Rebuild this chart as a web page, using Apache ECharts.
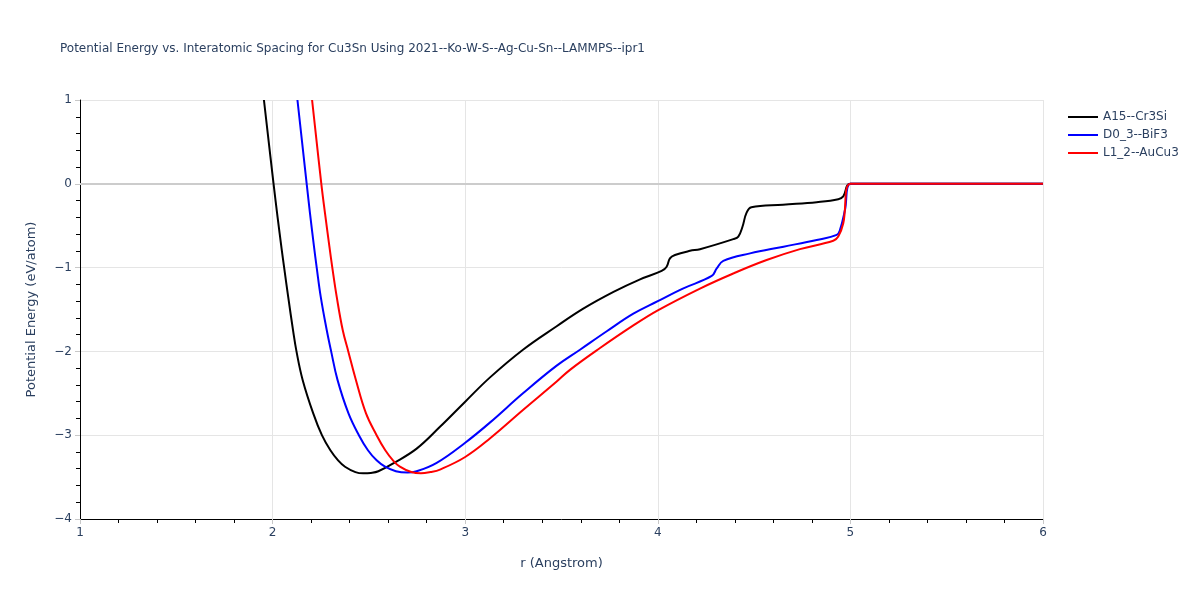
<!DOCTYPE html>
<html>
<head>
<meta charset="utf-8">
<script src="https://cdn.jsdelivr.net/npm/echarts@6/dist/echarts.min.js"></script>
<style>
  html, body { margin: 0; padding: 0; background: #fff; }
  #chartArea { width: 1200px; height: 600px; }
</style>
</head>
<body>
<div id="chartArea"></div>
<script>
// 数据 (r 单位 Angstrom, 能量 eV/atom)
const rA15 = [1.955, 2.005, 2.026, 2.047, 2.06, 2.081, 2.106, 2.124, 2.156, 2.211, 2.256, 2.30, 2.34, 2.376, 2.43, 2.47, 2.51, 2.549, 2.627, 2.748, 2.869, 3.0, 3.129, 3.30, 3.475, 3.613, 3.77, 3.908, 4.02, 4.046, 4.063, 4.089, 4.167, 4.219, 4.392, 4.418, 4.44, 4.46, 4.486, 4.65, 4.825, 4.937, 4.963, 5.0, 6.0];
const eA15 = [1, 0, -0.4, -0.78, -1.0, -1.35, -1.745, -2.0, -2.34, -2.74, -3.0, -3.18, -3.30, -3.376, -3.44, -3.455, -3.45, -3.43, -3.335, -3.16, -2.90, -2.60, -2.31, -1.98, -1.70, -1.49, -1.29, -1.14, -1.04, -0.99, -0.89, -0.85, -0.80, -0.78, -0.66, -0.63, -0.51, -0.35, -0.28, -0.25, -0.22, -0.185, -0.15, 0, 0];

const rD03 = [2.129, 2.177, 2.194, 2.215, 2.229, 2.25, 2.281, 2.304, 2.337, 2.394, 2.448, 2.495, 2.54, 2.584, 2.64, 2.70, 2.748, 2.852, 3.0, 3.128, 3.30, 3.475, 3.596, 3.735, 3.873, 4.0, 4.13, 4.28, 4.306, 4.34, 4.479, 4.653, 4.825, 4.929, 4.946, 4.972, 5.0, 6.0];
const eD03 = [1, 0, -0.35, -0.75, -1.0, -1.35, -1.745, -2.0, -2.34, -2.74, -3.0, -3.18, -3.30, -3.376, -3.43, -3.445, -3.43, -3.33, -3.09, -2.85, -2.50, -2.17, -1.98, -1.76, -1.55, -1.40, -1.25, -1.10, -1.01, -0.92, -0.83, -0.75, -0.67, -0.61, -0.55, -0.31, 0, 0];

const rL12 = [2.205, 2.253, 2.272, 2.295, 2.31, 2.333, 2.364, 2.393, 2.43, 2.485, 2.54, 2.585, 2.625, 2.661, 2.72, 2.77, 2.82, 2.869, 3.0, 3.128, 3.30, 3.475, 3.544, 3.70, 3.873, 4.0, 4.219, 4.392, 4.565, 4.738, 4.911, 4.937, 4.963, 5.0, 6.0];
const eL12 = [1, 0, -0.35, -0.75, -1.0, -1.35, -1.745, -2.0, -2.32, -2.74, -3.0, -3.18, -3.30, -3.376, -3.44, -3.455, -3.44, -3.41, -3.26, -3.04, -2.70, -2.36, -2.22, -1.96, -1.69, -1.51, -1.25, -1.07, -0.91, -0.78, -0.68, -0.63, -0.47, 0, 0];

const seriesNames = ['A15--Cr3Si', 'D0_3--BiF3', 'L1_2--AuCu3'];
const seriesColors = ['#000000', '#0000ff', '#ff0000'];

const textColor = '#2a3f5f';
const font = '"DejaVu Sans", Verdana, sans-serif';

const chartDom = document.getElementById('chartArea');
const myChart = echarts.init(chartDom);

function pairs(xs, ys) {
    return xs.map((x, i) => [x, ys[i]]);
}

const allData = [pairs(rA15, eA15), pairs(rD03, eD03), pairs(rL12, eL12)];

const series = allData.map((data, i) => ({
    name: seriesNames[i],
    type: 'line',
    data: data,
    symbol: 'none',
    smooth: 0.4,
    clip: true,
    lineStyle: { color: seriesColors[i], width: 2 },
    itemStyle: { color: seriesColors[i] },
    z: 3 + i
}));

// 零线
series[0].markLine = {
    silent: true,
    symbol: 'none',
    label: { show: false },
    lineStyle: { color: '#cccccc', width: 2, type: 'solid' },
    data: [{ yAxis: 0 }],
    z: 1
};

// 负号用 U+2212
const minusFmt = v => String(v).replace('-', '\u2212');

const axisCommon = {
    axisLine: { show: true, onZero: false, lineStyle: { color: '#000', width: 1 } },
    axisTick: { show: true, length: 5, lineStyle: { color: '#c8c8c8', width: 1 } },
    minorTick: { show: true, splitNumber: 5, length: 4, lineStyle: { color: '#000', width: 1 } },
    splitLine: { show: true, lineStyle: { color: '#e5e5e5', width: 1 } },
    axisLabel: { color: textColor, fontSize: 12, fontFamily: font, formatter: minusFmt },
    nameTextStyle: { color: textColor, fontSize: 13, fontFamily: font }
};

const option = {
    backgroundColor: '#fff',
    animation: false,
    title: {
        text: 'Potential Energy vs. Interatomic Spacing for Cu3Sn Using 2021--Ko-W-S--Ag-Cu-Sn--LAMMPS--ipr1',
        left: 55,
        top: 38,
        textStyle: { color: textColor, fontSize: 12, fontWeight: 'normal', fontFamily: font }
    },
    legend: {
        orient: 'vertical',
        left: 1062,
        top: 106,
        itemWidth: 30,
        itemHeight: 2,
        itemGap: 6,
        data: seriesNames,
        textStyle: { color: textColor, fontSize: 12, fontFamily: font }
    },
    grid: { left: 80, right: 157, top: 100, bottom: 81, containLabel: false },
    xAxis: Object.assign({}, axisCommon, {
        type: 'value',
        min: 1,
        max: 6,
        interval: 1,
        name: 'r (Angstrom)',
        nameLocation: 'middle',
        nameGap: 38
    }),
    yAxis: Object.assign({}, axisCommon, {
        type: 'value',
        min: -4,
        max: 1,
        interval: 1,
        name: 'Potential Energy (eV/atom)',
        nameLocation: 'middle',
        nameGap: 42
    }),
    series: series
};

myChart.setOption(option);

window.addEventListener('resize', () => {
    myChart.resize();
});
</script>
</body>
</html>
